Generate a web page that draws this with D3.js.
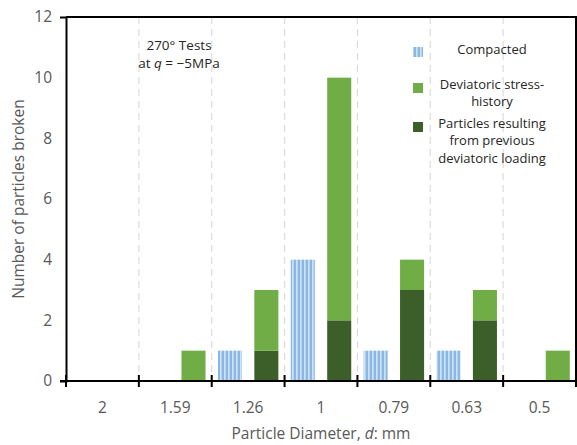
<!DOCTYPE html>
<html>
<head>
<meta charset="utf-8">
<script src="https://cdn.jsdelivr.net/npm/d3@7"></script>
<style>
  html, body { margin: 0; padding: 0; background: #fff; }
  svg { display: block; font-family: "Open Sans", sans-serif; }
</style>
</head>
<body>
<svg id="chart" width="577" height="445"></svg>
<script>
// Particle diameter classes (mm), coarse to fine
const categories = ["2", "1.59", "1.26", "1", "0.79", "0.63", "0.5"];
// Broken particle counts per class
const compacted = [0, 0, 1, 4, 1, 1, 0];
const previousLoading = [0, 0, 1, 2, 3, 2, 0];
const stressHistory = [0, 1, 2, 8, 1, 1, 1];
const yTicks = [0, 2, 4, 6, 8, 10, 12];

const svg = d3.select("#chart");
const m = { left: 66, right: 576, top: 17, bottom: 381 };

const x = d3.scaleBand().domain(categories).range([m.left, m.right]).padding(0);
const inner = d3.scaleBand().domain(["compacted", "deviatoric"])
  .range([0, x.bandwidth()]).paddingInner(0.34).paddingOuter(0.17);
const y = d3.scaleLinear().domain([0, 12]).range([m.bottom, m.top]);

const defs = svg.append("defs");
const pat = defs.append("pattern").attr("id", "stripes")
  .attr("patternUnits", "userSpaceOnUse").attr("width", 4).attr("height", 4);
pat.append("rect").attr("width", 4).attr("height", 4).attr("fill", "#9cc3e8");
pat.append("rect").attr("x", 0).attr("width", 1.5).attr("height", 4).attr("fill", "#cfe1f4");
pat.append("rect").attr("x", 2.5).attr("width", 1).attr("height", 4).attr("fill", "#7aaede");

const darkGreen = "#3c5f2a";
const lightGreen = "#70ad47";

// Dashed separators between diameter classes
svg.append("g").selectAll("line")
  .data(categories.slice(1))
  .join("line")
  .attr("x1", d => x(d)).attr("x2", d => x(d))
  .attr("y1", m.top).attr("y2", m.bottom)
  .attr("stroke", "#dcdcdc").attr("stroke-width", 1.2)
  .attr("stroke-dasharray", "7,5");

// Compacted bars
svg.append("g").selectAll("rect")
  .data(categories.map((c, i) => ({ c, v: compacted[i] })).filter(d => d.v > 0))
  .join("rect")
  .attr("x", d => x(d.c) + inner("compacted"))
  .attr("width", inner.bandwidth())
  .attr("y", d => y(d.v))
  .attr("height", d => y(0) - y(d.v))
  .attr("fill", "url(#stripes)");

// Deviatoric bars: previous loading at the bottom, stress-history stacked on top
const stackData = categories.map((c, i) => ({ c, prev: previousLoading[i], hist: stressHistory[i] }));
const stacked = d3.stack().keys(["prev", "hist"])(stackData);
const fills = { prev: darkGreen, hist: lightGreen };
svg.append("g").selectAll("g")
  .data(stacked)
  .join("g")
  .attr("fill", s => fills[s.key])
  .selectAll("rect")
  .data(s => s.filter(d => d[1] > d[0]))
  .join("rect")
  .attr("x", d => x(d.data.c) + inner("deviatoric"))
  .attr("width", inner.bandwidth())
  .attr("y", d => y(d[1]))
  .attr("height", d => y(d[0]) - y(d[1]));

// Frame: top and right edges
svg.append("path")
  .attr("d", `M${m.left},${m.top}H${m.right}V${m.bottom}`)
  .attr("fill", "none").attr("stroke", "#000").attr("stroke-width", 2);

// Y axis
const yAxis = svg.append("g").attr("transform", `translate(${m.left},0)`)
  .call(d3.axisLeft(y).tickValues(yTicks).tickSize(6).tickPadding(8));
yAxis.select(".domain").attr("stroke", "#000").attr("stroke-width", 2);
yAxis.selectAll(".tick line").attr("stroke", "#000").attr("stroke-width", 1.5).attr("x2", 1);
yAxis.selectAll(".tick text").attr("fill", "#595959").style("font-size", "15.5px")
  .style("font-family", "'Open Sans', sans-serif");

// X axis with class boundary ticks crossing the baseline
svg.append("line")
  .attr("x1", m.left - 6).attr("x2", m.right)
  .attr("y1", m.bottom).attr("y2", m.bottom)
  .attr("stroke", "#000").attr("stroke-width", 2);
const bounds = categories.map(c => x(c)).concat([x.range()[1]]);
svg.append("g").selectAll("line")
  .data(bounds)
  .join("line")
  .attr("x1", d => d).attr("x2", d => d)
  .attr("y1", m.bottom - 6).attr("y2", m.bottom + 6)
  .attr("stroke", "#000").attr("stroke-width", 2);
svg.append("g").selectAll("text")
  .data(categories)
  .join("text")
  .attr("x", d => x(d) + x.bandwidth() / 2)
  .attr("y", 413)
  .attr("text-anchor", "middle")
  .attr("fill", "#595959")
  .style("font-size", "15.5px")
  .text(d => d);

// Axis titles
const xTitle = svg.append("text")
  .attr("x", 321).attr("y", 439)
  .attr("text-anchor", "middle").attr("fill", "#595959")
  .style("font-size", "15.5px");
xTitle.append("tspan").text("Particle Diameter, ");
xTitle.append("tspan").style("font-style", "italic").text("d");
xTitle.append("tspan").text(": mm");

svg.append("text")
  .attr("transform", "translate(24,199) rotate(-90)")
  .attr("text-anchor", "middle").attr("fill", "#595959")
  .style("font-size", "15.5px")
  .text("Number of particles broken");

// Test annotation
svg.append("text")
  .attr("x", 179).attr("y", 50)
  .attr("text-anchor", "middle").attr("fill", "#262626")
  .style("font-size", "13.5px")
  .text("270° Tests");
const ann2 = svg.append("text")
  .attr("x", 179).attr("y", 68)
  .attr("text-anchor", "middle").attr("fill", "#262626")
  .style("font-size", "13.5px");
ann2.append("tspan").text("at ");
ann2.append("tspan").style("font-style", "italic").text("q");
ann2.append("tspan").text(" = \u22125MPa");

// Legend
const legend = [
  { fill: "url(#stripes)", y: 47, lines: ["Compacted"], ty: 54 },
  { fill: lightGreen, y: 83, lines: ["Deviatoric stress-", "history"], ty: 89 },
  { fill: darkGreen, y: 122, lines: ["Particles resulting", "from previous", "deviatoric loading"], ty: 128 }
];
const lg = svg.append("g").selectAll("g").data(legend).join("g");
lg.append("rect")
  .attr("x", 413).attr("y", d => d.y)
  .attr("width", 10).attr("height", 10)
  .attr("fill", d => d.fill);
lg.each(function(d) {
  d3.select(this).selectAll("text")
    .data(d.lines)
    .join("text")
    .attr("x", 492)
    .attr("y", (t, i) => d.ty + i * 17.3)
    .attr("text-anchor", "middle")
    .attr("fill", "#262626")
    .style("font-size", "13px")
    .text(t => t);
});
</script>
</body>
</html>
